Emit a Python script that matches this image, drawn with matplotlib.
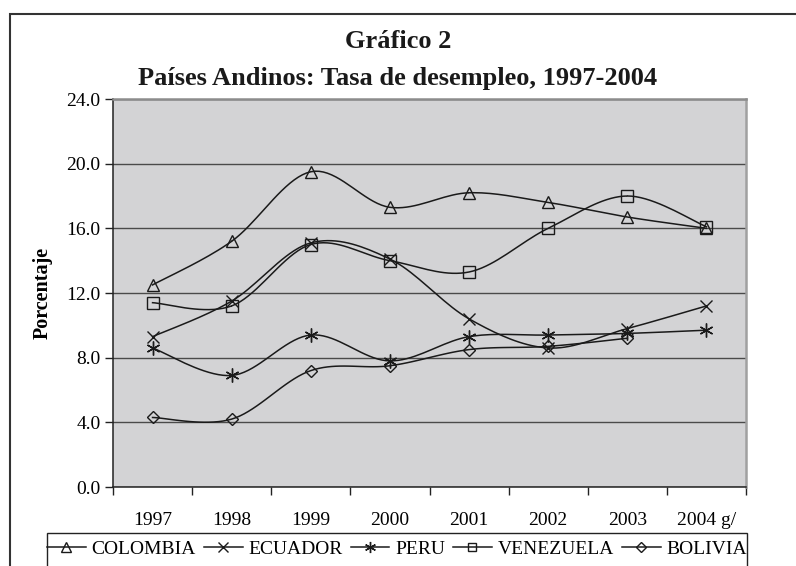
import numpy as np
import matplotlib
matplotlib.use("Agg")
from matplotlib import pyplot as plt
from matplotlib.patches import Rectangle
from matplotlib.lines import Line2D

plt.rcParams['font.family'] = ['Liberation Serif', 'DejaVu Serif']

# Data
years = ['1997', '1998', '1999', '2000', '2001', '2002', '2003', '2004 g/']
colombia = [12.5, 15.2, 19.5, 17.3, 18.2, 17.6, 16.7, 16.0]
ecuador = [9.3, 11.5, 15.1, 14.1, 10.4, 8.6, 9.8, 11.2]
peru = [8.6, 6.9, 9.4, 7.8, 9.3, 9.4, 9.5, 9.7]
venezuela = [11.4, 11.2, 15.0, 14.0, 13.3, 16.0, 18.0, 16.1]
bolivia = [4.3, 4.2, 7.2, 7.5, 8.5, 8.7, 9.2]

W, H = 796, 566


def smooth(x, y, n=20):
    # Excel-like smoothed line (Catmull-Rom through the points)
    x = np.asarray(x, float)
    y = np.asarray(y, float)
    px = np.concatenate([[x[0]], x, [x[-1]]])
    py = np.concatenate([[y[0]], y, [y[-1]]])
    xs, ys = [], []
    t = np.linspace(0, 1, n)
    for i in range(1, len(px) - 2):
        p0, p1, p2, p3 = (px[i-1], py[i-1]), (px[i], py[i]), (px[i+1], py[i+1]), (px[i+2], py[i+2])
        for k in range(2):
            a, b, c, d = p0[k], p1[k], p2[k], p3[k]
            v = 0.5 * ((2*b) + (-a + c)*t + (2*a - 5*b + 4*c - d)*t**2 + (-a + 3*b - 3*c + d)*t**3)
            (xs if k == 0 else ys).append(v)
    return np.concatenate(xs), np.concatenate(ys)


fig = plt.figure(figsize=(W/100, H/100), dpi=100)
ax = fig.add_axes([113/W, 1 - 487/H, (746-113)/W, (487-99)/H])
ax.set_facecolor('#d3d3d5')

series = [
    ('COLOMBIA', colombia, '^', 9),
    ('ECUADOR', ecuador, 'x', 9),
    ('PERU', peru, (6, 2, 0), 10),
    ('VENEZUELA', venezuela, 's', 8),
    ('BOLIVIA', bolivia, 'D', 6.5),
]

handles = []
for name, vals, mk, ms in series:
    xpos = np.arange(len(vals)) + 0.5
    sx, sy = smooth(xpos, vals)
    ax.plot(sx, sy, '-', color='#1a1a1a', lw=1.1, zorder=3)
    ax.plot(xpos, vals, linestyle='none', marker=mk, ms=ms, mfc='none',
            mec='#1a1a1a', mew=1.0, zorder=4)
    handles.append(Line2D([], [], color='#1a1a1a', lw=1.1, marker=mk, ms=ms*0.8,
                          mfc='none', mec='#1a1a1a', mew=1.0))

ax.set_xlim(0, 8)
ax.set_ylim(0, 24)
ax.set_yticks(np.arange(0, 25, 4))
ax.set_yticklabels(['%.1f' % v for v in np.arange(0, 25, 4)])
ax.yaxis.grid(True, color='#4a4a4a', lw=1.0)
ax.set_axisbelow(True)

ax.set_xticks(np.arange(0, 9))
ax.set_xticklabels([])
ax.set_xticks(np.arange(8) + 0.5, minor=True)
ax.set_xticklabels(years, minor=True)
ax.tick_params(axis='x', which='minor', length=0, pad=18, labelsize=14)
ax.tick_params(axis='x', which='major', direction='out', length=6, width=1, color='#222')
ax.tick_params(axis='y', direction='out', length=6, width=1, color='#222', labelsize=14, pad=3)

for s in ['left', 'bottom']:
    ax.spines[s].set_color('#222')
    ax.spines[s].set_linewidth(1.1)
ax.spines['top'].set_color('#8c8c8c')
ax.spines['top'].set_linewidth(1.8)
ax.spines['right'].set_color('#a0a0a0')
ax.spines['right'].set_linewidth(1.8)

ax.set_ylabel('Porcentaje', fontsize=14.5, fontweight='bold', labelpad=10)

fig.text(398/W, 1 - 42/H, 'Gráfico 2', ha='center', va='center',
         fontsize=19, fontweight='bold', color='#1a1a1a')
fig.text(398/W, 1 - 78/H, 'Países Andinos: Tasa de desempleo, 1997-2004', ha='center',
         va='center', fontsize=19, fontweight='bold', color='#1a1a1a')

# outer frame (cut off on right and bottom)
fig.patches.append(Rectangle((10/W, 1 - 620/H), 800/W, 606/H, transform=fig.transFigure,
                             fill=False, ec='#333333', lw=1.5, clip_on=False))
# legend box
fig.patches.append(Rectangle((47/W, 1 - 600/H), 700/W, 67/H, transform=fig.transFigure,
                             fill=False, ec='#222222', lw=1.0, clip_on=False))

fig.legend(handles, [s[0] for s in series], loc='center', bbox_to_anchor=(397/W, 1 - 549/H),
           ncol=5, frameon=False, fontsize=14, handlelength=2.0, handletextpad=0.3,
           columnspacing=0.4, borderpad=0)

fig.savefig('out.png', dpi=100)
